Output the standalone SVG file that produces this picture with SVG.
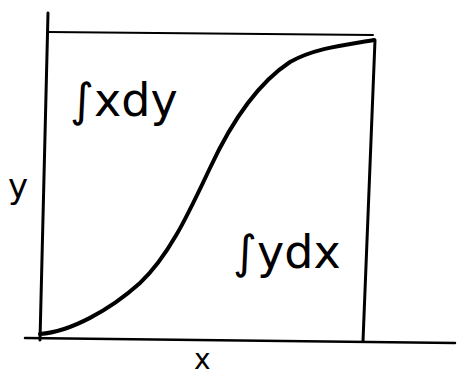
<svg xmlns="http://www.w3.org/2000/svg" width="457" height="377" viewBox="0 0 457 377">
<style>
.ln{fill:none;stroke:#000;stroke-linecap:round;stroke-linejoin:round}
.t{font-family:"DejaVu Sans","Liberation Sans",sans-serif;fill:#000}
</style>
<rect width="457" height="377" fill="#fff"/>
<g id="axes">
<path class="ln" d="M48,13 L40,340" stroke-width="3"/>
<path class="ln" d="M25,338 L455,343" stroke-width="2.5"/>
</g>
<g id="box">
<path class="ln" d="M48,32 L373,35" stroke-width="2"/>
<path class="ln" d="M375,40 L363,341" stroke-width="3"/>
</g>
<g id="curve">
<path class="ln" d="M40,334 C70,332 110,310 140,283 C170,255 190,210 210,168 C230,125 255,85 290,62 C315,48 345,45 374,40" stroke-width="4"/>
</g>
<g id="labels">
<text class="t" x="70" y="116" font-size="46">∫xdy</text>
<text class="t" x="233" y="268" font-size="46">∫ydx</text>
<text class="t" x="8" y="198" font-size="34">y</text>
<text class="t" x="194" y="369" font-size="28">x</text>
</g>
</svg>
